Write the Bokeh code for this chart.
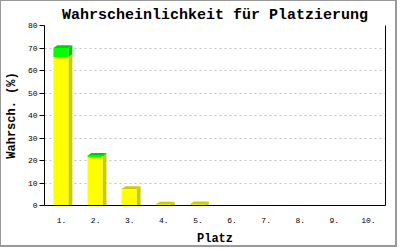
from bokeh.plotting import figure
from bokeh.models import Range1d, FixedTicker, LinearAxis, ColumnDataSource
from bokeh.embed import file_html
from bokeh.resources import INLINE

places = ["1.", "2.", "3.", "4.", "5.", "6.", "7.", "8.", "9.", "10."]
base_vals = [66.0, 21.6, 7.3, 0.4, 0.5, 0, 0, 0, 0, 0]
top_vals = [4.0, 0.5, 0, 0, 0, 0, 0, 0, 0, 0]
y_ticks = [0, 10, 20, 30, 40, 50, 60, 70, 80]

FONT = "Liberation Mono"
W, H = 397, 247
p = figure(width=W, height=H, output_backend="svg", toolbar_location=None,
           x_range=Range1d(0.5, 10.5), y_range=Range1d(0, 80),
           min_border_left=42, min_border_top=24, min_border_right=13, min_border_bottom=34,
           background_fill_color="white", border_fill_color="white")
p.styles = {"border-style": "solid", "border-color": "#999999", "border-width": "1px 2px 2px 1px"}
p.outline_line_color = None

p.title.text = "Wahrscheinlichkeit für Platzierung"
p.title.text_font = FONT
p.title.text_font_size = "15px"
p.title.text_font_style = "bold"
p.title.text_color = "black"
p.title.align = "center"
p.title.offset = 0
p.title.standoff = 4

xi = list(range(1, len(places) + 1))

# axes
p.xaxis.ticker = FixedTicker(ticks=xi)
p.xaxis.major_label_overrides = {i: lab for i, lab in zip(xi, places)}
p.xaxis.major_tick_line_color = None
p.xaxis.minor_tick_line_color = None
p.xaxis.axis_line_color = "black"
p.xaxis.major_label_text_font = FONT
p.xaxis.major_label_text_font_size = "8px"
p.xaxis.major_label_text_color = "black"
p.xaxis.major_label_standoff = 6
p.xaxis.axis_label = "Platz"
p.xaxis.axis_label_text_font = FONT
p.xaxis.axis_label_text_font_size = "12px"
p.xaxis.axis_label_text_font_style = "bold"
p.xaxis.axis_label_text_color = "black"
p.xaxis.axis_label_standoff = 6

p.yaxis.ticker = FixedTicker(ticks=y_ticks)
p.yaxis.major_tick_out = 5
p.yaxis.major_tick_in = 0
p.yaxis.major_tick_line_color = "black"
p.yaxis.minor_tick_line_color = None
p.yaxis.axis_line_color = "black"
p.yaxis.major_label_text_font = FONT
p.yaxis.major_label_text_font_size = "8px"
p.yaxis.major_label_text_color = "black"
p.yaxis.major_label_standoff = 2
p.yaxis.axis_label = "Wahrsch. (%)"
p.yaxis.axis_label_text_font = FONT
p.yaxis.axis_label_text_font_size = "12px"
p.yaxis.axis_label_text_font_style = "bold"
p.yaxis.axis_label_text_color = "black"
p.yaxis.axis_label_standoff = 6

ra = LinearAxis(ticker=FixedTicker(ticks=[]), major_tick_line_color=None,
                minor_tick_line_color=None, major_label_text_font_size="0px",
                axis_line_color="black")
p.add_layout(ra, "right")

p.xgrid.grid_line_color = None
p.ygrid.ticker = FixedTicker(ticks=y_ticks[1:])
p.ygrid.grid_line_color = "#c0c0c0"
p.ygrid.grid_line_dash = "2 3"

# bars (3D-look stacked)
half_l, half_r = 0.24, 0.20
dx = 4 / 34.2
dy = 3 / 2.3625
series = [(base_vals, "#ffff00", "#cccc00"), (top_vals, "#00ff00", "#00cc00")]
fronts = dict(left=[], right=[], bottom=[], top=[], color=[])
sides = dict(xs=[], ys=[], color=[])
tops = dict(xs=[], ys=[], color=[])
for i, x in enumerate(xi):
    total = sum(s[0][i] for s in series)
    if total <= 0:
        continue
    bottom = 0.0
    last_dark = None
    for vals, col, dark in series:
        v = vals[i]
        if v <= 0:
            continue
        t = bottom + v
        xl, xr = x - half_l, x + half_r
        fronts["left"].append(xl); fronts["right"].append(xr)
        fronts["bottom"].append(bottom); fronts["top"].append(t)
        fronts["color"].append(col)
        b2 = bottom + dy if bottom > 0 else 0
        sides["xs"].append([xr, xr + dx, xr + dx, xr])
        sides["ys"].append([bottom, b2, t + dy, t])
        sides["color"].append(dark)
        bottom = t
        last_dark = dark
    xl, xr = x - half_l, x + half_r
    tops["xs"].append([xl, xr, xr + dx, xl + dx])
    tops["ys"].append([bottom, bottom, bottom + dy, bottom + dy])
    tops["color"].append(last_dark)

p.patches("xs", "ys", source=ColumnDataSource(sides), fill_color="color", line_color=None)
p.quad(left="left", right="right", bottom="bottom", top="top", source=ColumnDataSource(fronts),
       fill_color="color", line_color=None)
p.patches("xs", "ys", source=ColumnDataSource(tops), fill_color="color", line_color=None)

open("out.html", "w").write(file_html(p, INLINE))
